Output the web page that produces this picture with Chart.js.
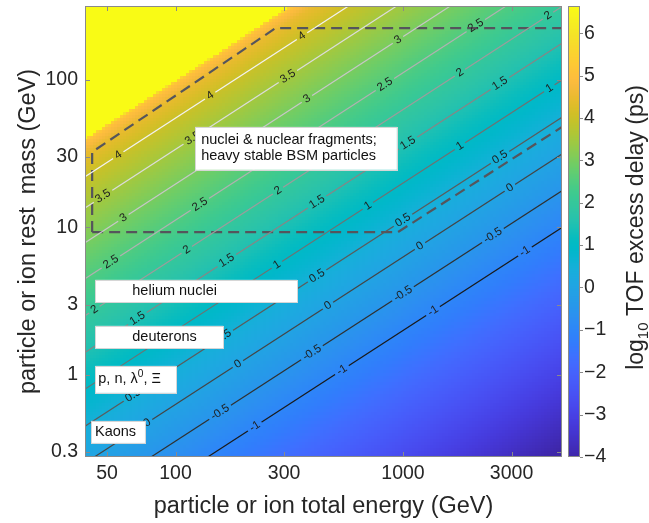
<!DOCTYPE html>
<html>
<head>
<meta charset="utf-8">
<title>TOF excess delay</title>
<script src="https://cdn.jsdelivr.net/npm/chart.js@4.4.1/dist/chart.umd.min.js"></script>
<style>
  html, body { margin: 0; padding: 0; background: #fff; }
  canvas { display: block; }
</style>
</head>
<body>
<canvas id="tof" width="649" height="523"></canvas>
<script>
const energyTicks = [50, 100, 300, 1000, 3000];
const massTicks = [0.3, 1, 3, 10, 30, 100];
const delayTicks = [-4, -3, -2, -1, 0, 1, 2, 3, 4, 5, 6];

const energyRange = [40, 5000];
const massRange = [0.277, 318];
const delayRange = [-4, 6.64];

// log10 delay (ps) along the m/E diagonal; E < m sits at the top of the scale
const massRatio = [6.3e-5, 2.0e-4, 6.3e-4, 0.0020, 0.00355, 0.0063, 0.0112, 0.020, 0.0355,
  0.063, 0.112, 0.197, 0.339, 0.552, 0.79, 0.943, 0.991, 0.9989, 1];
const logDelay = [-4, -3, -2, -1, -0.5, 0, 0.5, 1, 1.5, 2, 2.5, 3, 3.5, 4, 4.5, 5, 5.5, 6, 6.64];

const contourLevels = [-1, -0.5, 0, 0.5, 1, 1.5, 2, 2.5, 3, 3.5, 4];

// energies (GeV) where each contour carries an inline label
const labelEnergies = {
  '-1': [223, 539, 1355, 3436],
  '-0.5': [157, 398, 1000, 2485],
  '0': [75, 188, 468, 1188, 2950],
  '0.5': [65, 163, 419, 1000, 2670],
  '1': [279, 701, 1780, 4400],
  '1.5': [68, 168, 419, 1052, 2670],
  '2': [44, 112, 282, 1780, 4340],
  '2.5': [52, 128, 833, 2090],
  '3': [59, 378, 950],
  '3.5': [48, 119, 312],
  '4': [56, 142, 360]
};

// dashed outline of the nuclei / BSM region
const nucleiUpperE = [43, 43, 275, 5000];
const nucleiUpperM = [9.3, 32.5, 225, 225];
const nucleiLowerE = [43, 950, 5000];
const nucleiLowerM = [9.3, 9.3, 48];

const boxes = [
  { lines: [[{ t: 'nuclei & nuclear fragments;' }], [{ t: 'heavy stable BSM particles' }]],
    E: [122, 940], m: [24.6, 48.1], pad: 6 },
  { lines: [[{ t: 'helium nuclei' }]], E: [44.4, 342], m: [3.12, 4.41], pad: 37 },
  { lines: [[{ t: 'deuterons' }]], E: [44.4, 162], m: [1.52, 2.15], pad: 37 },
  { lines: [[{ t: 'p, n, ' }, { t: 'λ' }, { t: '0', sup: true }, { t: ', Ξ' }]],
    E: [44.4, 100.5], m: [0.754, 1.15], pad: 3 },
  { lines: [[{ t: 'Kaons' }]], E: [42.5, 73.4], m: [0.345, 0.487], pad: 4 }
];

const FONT = '"Liberation Sans", Arial, Helvetica, sans-serif';
const INK = '#262626';
const FRAME = '#8a8a8a';

const PARULA = [
  [0.2422,0.1504,0.6603],[0.2504,0.1650,0.7076],[0.2578,0.1818,0.7511],[0.2647,0.1978,0.7952],
  [0.2706,0.2147,0.8364],[0.2751,0.2342,0.8710],[0.2783,0.2559,0.8991],[0.2803,0.2782,0.9221],
  [0.2813,0.3006,0.9414],[0.2810,0.3228,0.9579],[0.2795,0.3447,0.9717],[0.2760,0.3667,0.9829],
  [0.2699,0.3892,0.9906],[0.2602,0.4123,0.9952],[0.2440,0.4358,0.9988],[0.2206,0.4603,0.9973],
  [0.1963,0.4847,0.9892],[0.1834,0.5074,0.9798],[0.1786,0.5289,0.9682],[0.1764,0.5499,0.9520],
  [0.1687,0.5703,0.9359],[0.1540,0.5902,0.9218],[0.1460,0.6091,0.9079],[0.1380,0.6276,0.8973],
  [0.1248,0.6459,0.8883],[0.1113,0.6635,0.8763],[0.0952,0.6798,0.8598],[0.0689,0.6948,0.8394],
  [0.0297,0.7082,0.8163],[0.0036,0.7203,0.7917],[0.0067,0.7312,0.7660],[0.0433,0.7411,0.7394],
  [0.0964,0.7500,0.7120],[0.1408,0.7584,0.6842],[0.1717,0.7670,0.6554],[0.1938,0.7758,0.6251],
  [0.2161,0.7843,0.5923],[0.2470,0.7918,0.5567],[0.2906,0.7973,0.5188],[0.3406,0.8008,0.4789],
  [0.3909,0.8029,0.4354],[0.4456,0.8024,0.3909],[0.5044,0.7993,0.3480],[0.5616,0.7942,0.3045],
  [0.6174,0.7876,0.2612],[0.6720,0.7793,0.2227],[0.7242,0.7698,0.1910],[0.7738,0.7598,0.1646],
  [0.8203,0.7498,0.1535],[0.8634,0.7406,0.1596],[0.9035,0.7330,0.1774],[0.9393,0.7288,0.2100],
  [0.9728,0.7298,0.2394],[0.9956,0.7434,0.2371],[0.9970,0.7659,0.2199],[0.9952,0.7893,0.2028],
  [0.9892,0.8136,0.1885],[0.9786,0.8386,0.1766],[0.9676,0.8639,0.1643],[0.9610,0.8890,0.1537],
  [0.9597,0.9135,0.1423],[0.9628,0.9373,0.1265],[0.9691,0.9606,0.1064],[0.9769,0.9839,0.0805]
];

function colorFor(v) {
  let t = (v - delayRange[0]) / (delayRange[1] - delayRange[0]);
  t = Math.min(1, Math.max(0, t)) * (PARULA.length - 1);
  const i = Math.min(Math.floor(t), PARULA.length - 2);
  const f = t - i;
  const a = PARULA[i], b = PARULA[i + 1];
  return 'rgb(' + [0, 1, 2].map(k => Math.round(255 * (a[k] + (b[k] - a[k]) * f))).join(',') + ')';
}

function delayAt(ratio) {
  const n = massRatio.length;
  if (ratio >= massRatio[n - 1]) return logDelay[n - 1];
  if (ratio <= massRatio[0]) return logDelay[0];
  const lr = Math.log10(ratio);
  for (let i = 1; i < n; i++) {
    if (ratio <= massRatio[i]) {
      const l0 = Math.log10(massRatio[i - 1]), l1 = Math.log10(massRatio[i]);
      const f = (lr - l0) / (l1 - l0);
      return logDelay[i - 1] + f * (logDelay[i] - logDelay[i - 1]);
    }
  }
  return logDelay[n - 1];
}

function ratioFor(level) {
  return massRatio[logDelay.indexOf(level)];
}

function grayFor(level) {
  const g = Math.round(26 + (level + 1) / 5 * 216);
  return 'rgb(' + g + ',' + g + ',' + g + ')';
}

const datasets = [];
contourLevels.forEach(level => {
  const r = ratioFor(level);
  datasets.push({
    isContour: true,
    data: energyRange.map(E => ({ x: E, y: r * E })),
    borderColor: grayFor(level),
    borderWidth: 1.2
  });
});
datasets.push({
  data: nucleiUpperE.map((E, i) => ({ x: E, y: nucleiUpperM[i] })),
  borderColor: '#55555c', borderWidth: 2.2, borderDash: [11, 6]
});
datasets.push({
  data: nucleiLowerE.map((E, i) => ({ x: E, y: nucleiLowerM[i] })),
  borderColor: '#55555c', borderWidth: 2.2, borderDash: [11, 6]
});
datasets.forEach(d => {
  d.xAxisID = 'x'; d.yAxisID = 'y';
  d.pointRadius = 0; d.fill = false; d.tension = 0;
});

const LABEL_FONT = '11.5px ' + FONT;

function contourLabels(chart) {
  const { x, y } = chart.scales;
  const ctx = chart.ctx;
  ctx.save();
  ctx.font = LABEL_FONT;
  const out = [];
  contourLevels.forEach(level => {
    const r = ratioFor(level);
    (labelEnergies[String(level)] || []).forEach(E => {
      const px = x.getPixelForValue(E), py = y.getPixelForValue(r * E);
      const dx = x.getPixelForValue(E * 2) - x.getPixelForValue(E / 2);
      const dy = y.getPixelForValue(r * E * 2) - y.getPixelForValue(r * E / 2);
      const text = String(level);
      out.push({ px, py, angle: Math.atan2(dy, dx), text, w: ctx.measureText(text).width });
    });
  });
  ctx.restore();
  return out;
}

function drawRuns(ctx, runs, x0, yMid, size) {
  let x = x0;
  runs.forEach(run => {
    const s = run.sup ? size * 0.7 : size;
    ctx.font = s + 'px ' + FONT;
    ctx.fillText(run.t, x, run.sup ? yMid - size * 0.35 : yMid);
    x += ctx.measureText(run.t).width;
  });
}

// fixed axis bands; drop the extra room Chart.js keeps for edge tick labels
function fixBand(size) {
  return s => {
    if (s.isHorizontal()) s.height = size; else s.width = size;
    s.paddingTop = 0; s.paddingBottom = 0; s.paddingLeft = 0; s.paddingRight = 0;
  };
}

const tofPlugin = {
  id: 'tofMap',
  beforeDatasetsDraw(chart) {
    const { ctx, scales: { x, y } } = chart;
    const nx = 160, ny = 150;
    const lx0 = Math.log10(x.min), dlx = (Math.log10(x.max) - lx0) / nx;
    const ly0 = Math.log10(y.min), dly = (Math.log10(y.max) - ly0) / ny;
    ctx.save();
    for (let i = 0; i < nx; i++) {
      const e0 = Math.pow(10, lx0 + i * dlx), e1 = Math.pow(10, lx0 + (i + 1) * dlx);
      const xa = Math.floor(x.getPixelForValue(e0)), xb = Math.ceil(x.getPixelForValue(e1));
      for (let j = 0; j < ny; j++) {
        const m0 = Math.pow(10, ly0 + j * dly), m1 = Math.pow(10, ly0 + (j + 1) * dly);
        const ya = Math.floor(y.getPixelForValue(m1)), yb = Math.ceil(y.getPixelForValue(m0));
        ctx.fillStyle = colorFor(delayAt(Math.sqrt(m0 * m1 / (e0 * e1))));
        ctx.fillRect(xa, ya, xb - xa, yb - ya);
      }
    }
    ctx.restore();
  },
  beforeDatasetDraw(chart, args) {
    if (!chart.data.datasets[args.index].isContour) return;
    const ctx = chart.ctx, a = chart.chartArea;
    ctx.save();
    ctx.beginPath();
    ctx.rect(a.left, a.top, a.right - a.left, a.bottom - a.top);
    contourLabels(chart).forEach(l => {
      const hw = l.w / 2 + 3, hh = 6;
      const c = Math.cos(l.angle), s = Math.sin(l.angle);
      const pts = [[-hw, -hh], [hw, -hh], [hw, hh], [-hw, hh]]
        .map(([u, v]) => [l.px + u * c - v * s, l.py + u * s + v * c]);
      ctx.moveTo(pts[0][0], pts[0][1]);
      for (let k = 1; k < 4; k++) ctx.lineTo(pts[k][0], pts[k][1]);
      ctx.closePath();
    });
    ctx.clip('evenodd');
  },
  afterDatasetDraw(chart, args) {
    if (chart.data.datasets[args.index].isContour) chart.ctx.restore();
  },
  afterDatasetsDraw(chart) {
    const { ctx, chartArea: a, scales: { x, y, cb } } = chart;

    // inline contour labels
    ctx.save();
    ctx.beginPath();
    ctx.rect(a.left, a.top, a.right - a.left, a.bottom - a.top);
    ctx.clip();
    ctx.font = LABEL_FONT;
    ctx.fillStyle = '#1e1e1e';
    ctx.textAlign = 'center';
    ctx.textBaseline = 'middle';
    contourLabels(chart).forEach(l => {
      ctx.save();
      ctx.translate(l.px, l.py);
      ctx.rotate(l.angle);
      ctx.fillText(l.text, 0, 0);
      ctx.restore();
    });
    ctx.restore();

    // text boxes
    ctx.save();
    boxes.forEach(b => {
      const x0 = x.getPixelForValue(b.E[0]), x1 = x.getPixelForValue(b.E[1]);
      const y0 = y.getPixelForValue(b.m[1]), y1 = y.getPixelForValue(b.m[0]);
      ctx.fillStyle = '#fff';
      ctx.fillRect(x0, y0, x1 - x0, y1 - y0);
      ctx.strokeStyle = '#d6d6d6';
      ctx.lineWidth = 1;
      ctx.strokeRect(Math.round(x0) + 0.5, Math.round(y0) + 0.5, Math.round(x1 - x0), Math.round(y1 - y0));
      ctx.fillStyle = '#111';
      ctx.textAlign = 'left';
      ctx.textBaseline = 'middle';
      const yc = (y0 + y1) / 2, gap = 16;
      b.lines.forEach((runs, k) => {
        drawRuns(ctx, runs, x0 + b.pad, yc + (k - (b.lines.length - 1) / 2) * gap, 14.5);
      });
    });
    ctx.restore();

    // frame with inward ticks on all sides
    ctx.save();
    ctx.strokeStyle = FRAME;
    ctx.lineWidth = 1;
    ctx.strokeRect(a.left + 0.5, a.top + 0.5, a.right - a.left - 1, a.bottom - a.top - 1);
    ctx.beginPath();
    energyTicks.forEach(E => {
      const px = Math.round(x.getPixelForValue(E)) + 0.5;
      ctx.moveTo(px, a.bottom); ctx.lineTo(px, a.bottom - 5);
      ctx.moveTo(px, a.top); ctx.lineTo(px, a.top + 5);
    });
    massTicks.forEach(m => {
      const py = Math.round(y.getPixelForValue(m)) + 0.5;
      ctx.moveTo(a.left, py); ctx.lineTo(a.left + 5, py);
      ctx.moveTo(a.right, py); ctx.lineTo(a.right - 5, py);
    });
    ctx.stroke();
    ctx.restore();

    // colour bar
    const bx = a.right + 6, bw = 12;
    ctx.save();
    const step = 0.02;
    for (let v = delayRange[0]; v < delayRange[1]; v += step) {
      const p0 = cb.getPixelForValue(v), p1 = cb.getPixelForValue(Math.min(v + step, delayRange[1]));
      ctx.fillStyle = colorFor(v + step / 2);
      ctx.fillRect(bx, Math.floor(p1), bw, Math.ceil(p0) - Math.floor(p1));
    }
    ctx.strokeStyle = FRAME;
    ctx.strokeRect(bx + 0.5, cb.top + 0.5, bw - 1, cb.bottom - cb.top - 1);
    ctx.beginPath();
    delayTicks.forEach(v => {
      const py = Math.round(cb.getPixelForValue(v)) + 0.5;
      ctx.moveTo(bx + bw, py); ctx.lineTo(bx + bw + 3, py);
    });
    ctx.stroke();

    // colour bar title, log10 with a subscript
    const parts = [
      { t: 'log', size: 23, dy: 0 },
      { t: '10', size: 15, dy: 5 },
      { t: ' TOF excess delay (ps)', size: 23, dy: 0 }
    ];
    let total = 0;
    parts.forEach(p => { ctx.font = p.size + 'px ' + FONT; p.w = ctx.measureText(p.t).width; total += p.w; });
    ctx.translate(bx + 67, (a.top + a.bottom) / 2 - 4);
    ctx.rotate(-Math.PI / 2);
    ctx.fillStyle = INK;
    ctx.textAlign = 'left';
    ctx.textBaseline = 'alphabetic';
    let u = -total / 2;
    parts.forEach(p => {
      ctx.font = p.size + 'px ' + FONT;
      ctx.fillText(p.t, u, 8 + p.dy);
      u += p.w;
    });
    ctx.restore();
  }
};

const tickFont = { family: FONT, size: 19.5 };
const titleFont = { family: FONT, size: 23.5 };

new Chart(document.getElementById('tof'), {
  type: 'line',
  data: { datasets },
  plugins: [tofPlugin],
  options: {
    responsive: false,
    animation: false,
    devicePixelRatio: 1,
    layout: { padding: { top: 6, left: 0, right: 0, bottom: 0 } },
    plugins: { legend: { display: false }, tooltip: { enabled: false } },
    scales: {
      x: {
        type: 'logarithmic', position: 'bottom',
        min: energyRange[0], max: energyRange[1],
        afterBuildTicks: s => { s.ticks = energyTicks.map(v => ({ value: v })); },
        afterFit: fixBand(66),
        grid: { display: false, drawTicks: false },
        border: { display: false },
        ticks: { font: tickFont, color: INK, padding: 5, autoSkip: false, maxRotation: 0,
          callback: v => String(v) },
        title: { display: true, text: 'particle or ion total energy (GeV)', font: titleFont,
          color: INK, padding: { top: 0, bottom: 2 } }
      },
      y: {
        type: 'logarithmic', position: 'left',
        min: massRange[0], max: massRange[1],
        afterBuildTicks: s => { s.ticks = massTicks.map(v => ({ value: v })); },
        afterFit: fixBand(85),
        grid: { display: false, drawTicks: false },
        border: { display: false },
        ticks: { font: tickFont, color: INK, padding: 7, autoSkip: false,
          callback: v => String(v) },
        title: { display: true, text: 'particle or ion rest  mass (GeV)', font: titleFont,
          color: INK, padding: { top: 14, bottom: 0 } }
      },
      cb: {
        type: 'linear', position: 'right',
        min: delayRange[0], max: delayRange[1],
        afterBuildTicks: s => { s.ticks = delayTicks.map(v => ({ value: v })); },
        afterFit: fixBand(87),
        grid: { display: false, drawTicks: false },
        border: { display: false },
        ticks: { font: tickFont, color: INK, padding: 22, autoSkip: false,
          callback: v => (v < 0 ? '\u2212' + Math.abs(v) : String(v)) }
      }
    }
  }
});
</script>
</body>
</html>
